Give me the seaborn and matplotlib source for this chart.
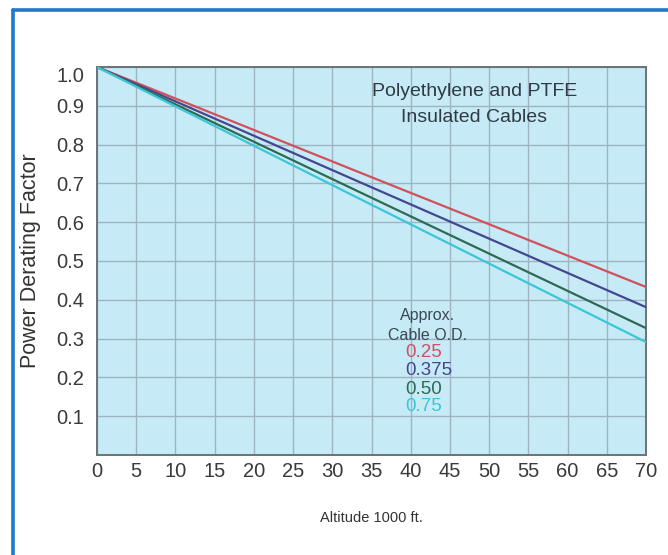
import matplotlib
matplotlib.use("Agg")
import matplotlib.pyplot as plt
from matplotlib.lines import Line2D
import seaborn as sns
import pandas as pd

# ---- data ----
altitude = [0, 35, 70]                      # 1000 ft
od_labels = ["0.25", "0.375", "0.50", "0.75"]
factor_025 = [1.00, 0.716, 0.433]
factor_0375 = [1.00, 0.690, 0.381]
factor_050 = [1.00, 0.663, 0.327]
factor_075 = [1.00, 0.645, 0.291]
x_ticks = list(range(0, 71, 5))
y_ticks = [0.1, 0.2, 0.3, 0.4, 0.5, 0.6, 0.7, 0.8, 0.9, 1.0]
colors = ["#d2505c", "#46468f", "#2d6a52", "#3cc6d6"]

rows = []
for lab, vals in zip(od_labels, [factor_025, factor_0375, factor_050, factor_075]):
    for a, v in zip(altitude, vals):
        rows.append({"Altitude": a, "Factor": v, "OD": lab})
df = pd.DataFrame(rows)

sns.set_theme(style="white")
plt.rcParams["font.family"] = ["Liberation Sans", "DejaVu Sans"]

fig = plt.figure(figsize=(6.68, 5.55), dpi=100)
fig.patch.set_facecolor("white")
ax = fig.add_axes([97 / 668, 1 - 455 / 555, (646 - 97) / 668, (455 - 67) / 555])
ax.set_facecolor("#c6ebf7")

sns.lineplot(data=df, x="Altitude", y="Factor", hue="OD", hue_order=od_labels,
             palette=colors, linewidth=1.6, legend=False, ax=ax, zorder=3)

ax.set_xlim(0, 70)
ax.set_ylim(0, 1.0)
ax.set_xticks(x_ticks)
ax.set_yticks(y_ticks)
ax.set_yticklabels([f"{v:.1f}" for v in y_ticks])
ax.grid(True, color="#9fb3c3", linewidth=1.0, zorder=0)
ax.set_axisbelow(True)
ax.tick_params(axis="both", length=0, labelsize=14.5, colors="#3a3a3a")
ax.tick_params(axis="x", pad=5)
ax.tick_params(axis="y", pad=9)
ax.get_yticklabels()[-1].set_va("top")
for s in ax.spines.values():
    s.set_color("#6a7378")
    s.set_linewidth(1.4)
    s.set_visible(True)

ax.set_xlabel("Altitude 1000 ft.", fontsize=10.5, color="#333333", labelpad=22)
ax.set_ylabel("Power Derating Factor", fontsize=15.5, color="#333333", labelpad=11)

# annotations
ax.text(48.1, 0.936, "Polyethylene and PTFE", ha="center", va="center",
        fontsize=14, color="#2f3a45")
ax.text(48.1, 0.869, "Insulated Cables", ha="center", va="center",
        fontsize=14, color="#2f3a45")
ax.text(42.2, 0.360, "Approx.", ha="center", va="center", fontsize=11.5, color="#3a4656")
ax.text(42.2, 0.309, "Cable O.D.", ha="center", va="center", fontsize=11.5, color="#3a4656")
for lab, col, yy in zip(od_labels, colors, [0.264, 0.219, 0.170, 0.124]):
    ax.text(39.3, yy, lab, ha="left", va="center", fontsize=13.5, color=col)

# outer blue frame (top and left only, as in the reference crop)
fig.add_artist(Line2D([13 / 668, 13 / 668], [0, 1 - 10 / 555], transform=fig.transFigure,
                      color="#1b7acb", linewidth=2.6))
fig.add_artist(Line2D([13 / 668, 1], [1 - 10 / 555, 1 - 10 / 555], transform=fig.transFigure,
                      color="#1b7acb", linewidth=2.6))

fig.savefig("out.png", dpi=100)
